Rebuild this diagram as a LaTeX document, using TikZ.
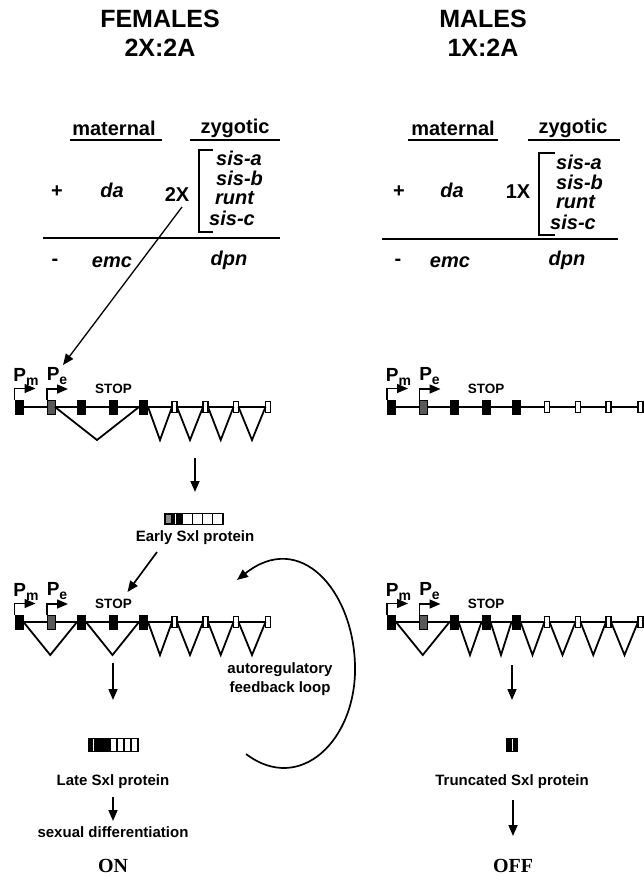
\documentclass[tikz,border=0pt]{standalone}
\usepackage{fontspec}
\setmainfont{Liberation Sans}
\newfontfamily\timesb{Liberation Serif}
\usetikzlibrary{arrows.meta,calc}
\tikzset{
  hd/.style={font=\bfseries\fontsize{25}{29}\selectfont, align=center, inner sep=0},
  lb/.style={font=\bfseries\fontsize{20}{20}\selectfont, inner sep=0},
  gn/.style={font=\bfseries\itshape\fontsize{20}{20}\selectfont, inner sep=0},
  sm/.style={font=\bfseries\fontsize{15}{19}\selectfont, inner sep=0, align=center},
  stp/.style={font=\bfseries\fontsize{13.5}{14}\selectfont, inner sep=0},
  prm/.style={font=\bfseries\fontsize{19}{19}\selectfont, inner sep=0},
  onoff/.style={font=\timesb\bfseries\fontsize{20}{20}\selectfont, inner sep=0},
  exb/.style={fill=black, minimum width=9pt, minimum height=15pt, inner sep=0, outer sep=0},
  exs/.style={fill=black!65, draw=black, line width=1pt, minimum width=8pt, minimum height=14pt, inner sep=0, outer sep=0},
  exw/.style={fill=white, draw=black, line width=1.4pt, minimum width=5pt, minimum height=11pt, inner sep=0, outer sep=0},
  gl/.style={line width=1.8pt},
  arr/.style={line width=1.7pt, -{Triangle[length=11pt,width=9pt]}},
  parr/.style={line width=1.5pt, -{Triangle[length=11pt,width=9pt]}},
  rulel/.style={line width=1.7pt},
}
\newcommand\gene[3]{%
  \foreach \i/\x/\t in {1/19/exb,2/51/exs,3/81.5/exb,4/113.5/exb,5/143.5/exb,6/174.5/exw,7/205.5/exw,8/236/exw,9/268/exw}{
    \node[\t] (#1\i) at ({#2+\x},#3) {};}
  \foreach \a/\b in {1/2,2/3,3/4,4/5,5/6,6/7,7/8,8/9}{
    \draw[gl] (#1\a.east) -- (#1\b.west);}
  \draw[parr] (#11.north west) -- ++(0,-11) -- ++(21,0);
  \draw[parr] (#12.north west) -- ++(0,-11) -- ++(21,0);
  \node[prm] (#1pm) at ({#2+26},{#3-30}) {P\raisebox{-4pt}{\fontsize{14}{14}\selectfont m}};
  \node[prm] (#1pe) at ({#2+57},{#3-31}) {P\raisebox{-4pt}{\fontsize{14}{14}\selectfont e}};
  \node[stp] (#1stop) at ({#2+113.5},{#3-18}) {STOP};
}
\newcommand\vsp[2]{\draw[gl] (#1.east) -- ($(#1.east)!0.5!(#2.west)+(0,33)$) -- (#2.west);}
\begin{document}
\begin{tikzpicture}[x=1pt,y=-1pt]
\useasboundingbox[fill=white] (0,0) rectangle (644,880);
% headings
\node[hd] (fh) at (160,33) {FEMALES\\2X:2A};
\node[hd] (mh) at (483,33) {MALES\\1X:2A};
% female table
\node[lb] (fmat) at (114,128) {maternal};
\draw[rulel] (70,140) -- (162,140);
\node[lb] (fzyg) at (235,128) {zygotic};
\draw[rulel] (190,140) -- (280,140);
\node[lb] (fplus) at (57,192) {+};
\node[gn] (fda) at (112,190) {da};
\node[lb] (f2x) at (177,195) {2X};
\draw[line width=1.8pt] (213,150) -- (199,150) -- (199,232) -- (213,232);
\node[gn,anchor=west] (fsa) at (216,158) {sis-a};
\node[gn,anchor=west] (fsb) at (216,178) {sis-b};
\node[gn,anchor=west] (fru) at (215,198) {runt};
\node[gn,anchor=west] (fsc) at (209,218) {sis-c};
\draw[line width=2pt] (43,238) -- (280,238);
\node[lb] (fmin) at (55,262) {-};
\node[gn] (femc) at (112,262) {emc};
\node[gn] (fdpn) at (229,260) {dpn};
% male table
\node[lb] (mmat) at (453,128) {maternal};
\draw[rulel] (408,140) -- (498,140);
\node[lb] (mzyg) at (573,128) {zygotic};
\draw[rulel] (528,140) -- (620,140);
\node[lb] (mplus) at (399,192) {+};
\node[gn] (mda) at (452,190) {da};
\node[lb] (m1x) at (518,192) {1X};
\draw[line width=1.8pt] (555,153) -- (539,153) -- (539,235) -- (555,235);
\node[gn,anchor=west] (msa) at (556,162) {sis-a};
\node[gn,anchor=west] (msb) at (556,182) {sis-b};
\node[gn,anchor=west] (mru) at (556,202) {runt};
\node[gn,anchor=west] (msc) at (550,222) {sis-c};
\draw[line width=2pt] (382,239) -- (618,239);
\node[lb] (mmin) at (398,262) {-};
\node[gn] (memc) at (450,262) {emc};
\node[gn] (mdpn) at (567,260) {dpn};
% genes
\gene{fa}{0}{407}
\gene{ma}{372.5}{407}
\gene{fb}{0}{622}
\gene{mb}{372.5}{622}
\vsp{fa2}{fa5}\vsp{fa5}{fa6}\vsp{fa6}{fa7}\vsp{fa7}{fa8}\vsp{fa8}{fa9}
\vsp{fb1}{fb3}\vsp{fb3}{fb5}\vsp{fb5}{fb6}\vsp{fb6}{fb7}\vsp{fb7}{fb8}\vsp{fb8}{fb9}
\vsp{mb1}{mb3}\vsp{mb3}{mb4}\vsp{mb4}{mb5}\vsp{mb5}{mb6}\vsp{mb6}{mb7}\vsp{mb7}{mb8}\vsp{mb8}{mb9}
% arrow 2X -> Pe
\draw[arr,line width=1.3pt] ([xshift=5pt,yshift=-12pt]f2x.center) -- ([xshift=6pt,yshift=11pt]fape.center);
% early protein
\coordinate (faout) at (195,458);
\coordinate (fepin) at (195,492);
\draw[arr] (faout) -- (fepin);
\fill (164,513) rectangle (182,525);
\fill[black!45] (166,515) rectangle (171,523);
\draw[white,line width=0.8pt] (175,514) -- (175,524);
\foreach \k in {0,...,3}{\draw[line width=1.2pt,fill=white] ({182+10.25*\k},513.6) rectangle ++(10.25,10.8);}
\node[sm] (fearly) at (195,538) {Early Sxl protein};
\draw[arr] ([xshift=-38pt,yshift=-14pt]fearly.center) -- ([xshift=14pt,yshift=12pt]fbstop.center);
% feedback loop
\coordinate (loopstart) at (246,754);
\coordinate (loopend) at (237,580);
\draw[line width=1.7pt,-{Triangle[length=11pt,width=9pt]}] (loopstart) .. controls (300,795) and (357,740) .. (355,665) .. controls (353,590) and (300,530) .. (loopend);
\node[sm] (fauto) at (280,679) {autoregulatory\\feedback loop};
% female bottom
\coordinate (fbout) at (113,663);
\coordinate (fbin) at (113,700);
\draw[arr] (fbout) -- (fbin);
\fill (88,738) rectangle (110,752);
\draw[white,line width=0.8pt] (93,739) -- (93,751);
\foreach \k in {0,...,3}{\draw[line width=1.2pt,fill=white] ({110+7*\k},738.6) rectangle ++(7,12.8);}
\node[sm] (flate) at (113,782) {Late Sxl protein};
\draw[arr] ([yshift=-15pt]flate.center) -- ([yshift=-39pt]flate.center);
\node[sm] (fsex) at (113,832) {sexual differentiation};
\node[onoff] (fon) at (113,866) {ON};
% male bottom
\coordinate (mbout) at (512,665);
\coordinate (mbin) at (512,700);
\draw[arr] (mbout) -- (mbin);
\fill (506,738) rectangle (518,752);
\draw[white,line width=0.8pt] (512,739) -- (512,751);
\node[sm] (mtrunc) at (512,782) {Truncated Sxl protein};
\draw[arr] ([xshift=1pt,yshift=-18pt]mtrunc.center) -- ([xshift=1pt,yshift=-54pt]mtrunc.center);
\node[onoff] (moff) at (513,866) {OFF};
\end{tikzpicture}
\end{document}
